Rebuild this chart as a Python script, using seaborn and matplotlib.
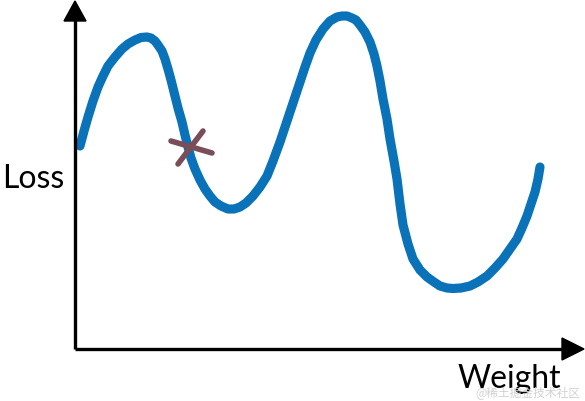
import pandas as pd
import matplotlib.pyplot as plt
import seaborn as sns
from matplotlib import font_manager

weight = [80, 84, 88, 93, 98, 103, 108, 115, 122, 128, 135, 141, 147, 151,
          155, 158, 162, 165, 168, 171, 175, 178, 182, 185, 188, 191, 195,
          200, 205, 210, 215, 221, 228, 234, 240, 246, 253, 260, 267, 273,
          280, 285, 290, 295, 300, 305, 310, 316, 323, 330, 337, 342, 347,
          352, 356, 360, 365, 370, 374, 377, 380, 383, 387, 390, 394, 397,
          400, 403, 408, 413, 420, 427, 434, 440, 447, 453, 461, 470, 478,
          487, 495, 503, 510, 517, 522, 527, 531, 535, 538, 540]
loss_px = [147, 132, 118, 102, 88, 77, 67, 58, 50, 45, 41, 38.5, 38, 39,
           42, 46, 52, 60, 70, 81, 97, 109, 123, 136, 148, 159, 170,
           181, 190, 197, 203, 207, 210, 210, 208, 204, 197, 188, 177, 162,
           143, 128, 113, 98, 83, 68, 54, 41, 30, 22, 18, 17, 17,
           19, 21, 26, 33, 43, 55, 67, 82, 100, 120, 140, 162, 180,
           205, 226, 245, 260, 271, 278, 283, 287, 289, 289.5, 289, 287, 283,
           277, 269, 260, 250, 240, 229, 217, 205, 193, 180, 168]

W, H = 585, 402
df = pd.DataFrame({"weight": weight, "loss": [H - v for v in loss_px]})

sns.set_theme(style="white")
names = {f.name for f in font_manager.fontManager.ttflist}
label_font = "Liberation Sans Narrow" if "Liberation Sans Narrow" in names else "Lato"
plt.rcParams["font.family"] = [label_font, "Noto Sans CJK SC", "DejaVu Sans"]

fig = plt.figure(figsize=(5.85, 4.02), dpi=100)
ax = fig.add_axes([0, 0, 1, 1])
ax.set_xlim(0, W)
ax.set_ylim(0, H)
ax.axis("off")

sns.lineplot(data=df, x="weight", y="loss", sort=False, ax=ax,
             color="#0a72b8", linewidth=6.6, solid_capstyle="round",
             solid_joinstyle="round", legend=False)

# axes with arrows
ax.plot([75, 75], [H - 350, H - 18], color="black", lw=2.4, solid_capstyle="butt")
ax.plot([75, 566], [H - 350, H - 350], color="black", lw=2.4, solid_capstyle="butt")
ax.fill([64, 86, 75], [H - 22, H - 22, H - 2], color="black")
ax.fill([562, 562, 584], [H - 339, H - 361, H - 350], color="black")

# the cross marker
ax.plot([171, 212], [H - 142, H - 154], color="#7a4d58", lw=4.0, solid_capstyle="round")
ax.plot([203, 178], [H - 132, H - 165], color="#7a4d58", lw=4.0, solid_capstyle="round")

ax.text(2, H - 188, "Loss", fontsize=23, va="baseline", ha="left", color="black")
ax.text(458, H - 388, "Weight", fontsize=23, va="baseline", ha="left", color="black")
ax.text(580, H - 393, "@稀土掘金技术社区", fontsize=8.5, va="center", ha="right",
        color="#d2d2d2", family=["Noto Sans CJK SC", "DejaVu Sans"])

fig.savefig("out.png", dpi=100)
